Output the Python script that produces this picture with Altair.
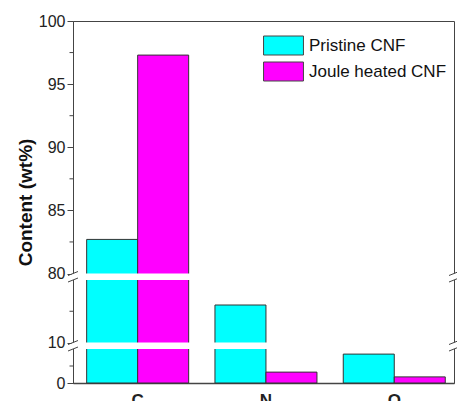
import altair as alt
import pandas as pd

# ---------------- data ----------------
elements = ["C", "N", "O"]
series_names = ["Pristine CNF", "Joule heated CNF"]
pristine = [82.7, 13.0, 8.5]
joule = [97.3, 3.2, 1.8]
colors = ["#00FFFF", "#FF00FF"]

# broken y axis: value segments and their drawn lengths
seg_lo = [0, 10, 80]
seg_hi = [10, 15, 100]
seg_len = [34, 62.5, 252.5]
gap = 6.5
major_ticks = [0, 10, 80, 85, 90, 95, 100]
minor_ticks = [5, 12.5, 82.5, 87.5, 92.5, 97.5]

W, H = 381, 362

# ---------------- break helpers ----------------
starts = []
acc = 0.0
for i, L in enumerate(seg_len):
    starts.append(acc)
    acc += L + gap
ks = [seg_len[i] / (seg_hi[i] - seg_lo[i]) for i in range(3)]


def disp_tick(v):
    # ticks on a boundary belong to the upper segment
    for i in reversed(range(3)):
        if seg_lo[i] <= v <= seg_hi[i]:
            return starts[i] + (v - seg_lo[i]) * ks[i]
    return None


expr = ""
for i in range(3):
    if i > 0:
        expr += f"datum.value < {seg_lo[i]} ? {starts[i-1] + seg_len[i-1]} : "
    expr += f"datum.value <= {seg_hi[i]} ? {starts[i]} + (datum.value - {seg_lo[i]}) * {ks[i]} : "
expr += f"{starts[2] + seg_len[2]}"

label_expr = ""
for i in range(2):
    label_expr += (f"datum.value < {starts[i] + seg_len[i] + gap / 2} ? "
                   f"'' + round({seg_lo[i]} + (datum.value - {starts[i]}) / {ks[i]}) : ")
label_expr += f"'' + round({seg_lo[2]} + (datum.value - {starts[2]}) / {ks[2]})"

rows = []
for e, p, j in zip(elements, pristine, joule):
    rows.append({"element": e, "series": series_names[0], "value": p})
    rows.append({"element": e, "series": series_names[1], "value": j})
df = pd.DataFrame(rows)

gaps = pd.DataFrame({
    "g1": [starts[i] + seg_len[i] for i in range(2)],
    "g2": [starts[i + 1] for i in range(2)],
})
edges = [starts[i] + seg_len[i] for i in range(2)] + [starts[i + 1] for i in range(2)]
brk = pd.DataFrame({"b1": [e - 2 for e in edges], "b2": [e + 2 for e in edges]})
minor = pd.DataFrame({"m": [disp_tick(v) for v in minor_ticks]})
major_disp = [disp_tick(v) for v in major_ticks]

yscale = alt.Scale(domain=[0, H], nice=False, zero=True)
yaxis = alt.Axis(
    title="Content (wt%)",
    values=major_disp,
    labelExpr=label_expr,
    tickSize=6,
    labelPadding=2,
    labelFontSize=16,
    titleFontSize=19,
    titleFontWeight="bold",
    titleX=-48,
    titleY=H / 2,
    titleAngle=-90,
    titleAlign="center",
    titleBaseline="middle",
)

bars = alt.Chart(df).transform_calculate(d=expr).mark_bar(
    stroke="#333", strokeWidth=1
).encode(
    x=alt.X("element:N", sort=elements,
            scale=alt.Scale(paddingInner=0.205, paddingOuter=0.0873, align=0.61),
            axis=alt.Axis(title=None, ticks=False, labelAngle=0, labelFontSize=17,
                          labelFontWeight="bold", labelPadding=9, domainWidth=1.5)),
    xOffset=alt.XOffset("series:N", sort=series_names,
                        scale=alt.Scale(paddingInner=0, paddingOuter=0)),
    y=alt.Y("d:Q", scale=yscale, axis=yaxis),
    color=alt.Color("series:N", sort=series_names,
                    scale=alt.Scale(domain=series_names, range=colors),
                    legend=alt.Legend(
                        title=None, orient="none", legendX=200.5, legendY=14.5,
                        symbolType="M-2.1,-1H2.1V1H-2.1Z", symbolSize=361,
                        symbolStrokeColor="#444", symbolStrokeWidth=1,
                        symbolOpacity=1, labelFontSize=17, labelOffset=15.5,
                        rowPadding=2, padding=0, labelColor="#111")),
)

gap_layer = alt.Chart(gaps).mark_rect(fill="white", stroke=None).encode(
    x=alt.value(-1.5), x2=alt.value(W + 1.5),
    y=alt.Y("g1:Q", scale=yscale, axis=yaxis), y2="g2:Q",
)

minor_layer = alt.Chart(minor).mark_rule(stroke="#444", strokeWidth=1).encode(
    x=alt.value(-3.5), x2=alt.value(0),
    y=alt.Y("m:Q", scale=yscale, axis=yaxis),
)

brk_left = alt.Chart(brk).mark_rule(stroke="#444", strokeWidth=1).encode(
    x=alt.value(-5), x2=alt.value(5),
    y=alt.Y("b1:Q", scale=yscale, axis=yaxis), y2="b2:Q",
)
brk_right = alt.Chart(brk).mark_rule(stroke="#444", strokeWidth=1).encode(
    x=alt.value(W - 5), x2=alt.value(W + 5),
    y=alt.Y("b1:Q", scale=yscale, axis=yaxis), y2="b2:Q",
)

chart = alt.layer(bars, gap_layer, minor_layer, brk_left, brk_right).properties(
    width=W, height=H,
    autosize=alt.AutoSizeParams(type="none"),
    padding={"left": 73, "top": 21, "right": 3, "bottom": 18},
    background="white",
).configure_view(
    stroke="#444", strokeWidth=1
).configure_axis(
    grid=False, domainColor="#444", tickColor="#444", labelColor="#222",
    titleColor="#111", labelFont="Liberation Sans", titleFont="Liberation Sans",
).configure_legend(
    labelFont="Liberation Sans"
)

chart.save("out.html", embed_options={"renderer": "svg", "actions": False})
